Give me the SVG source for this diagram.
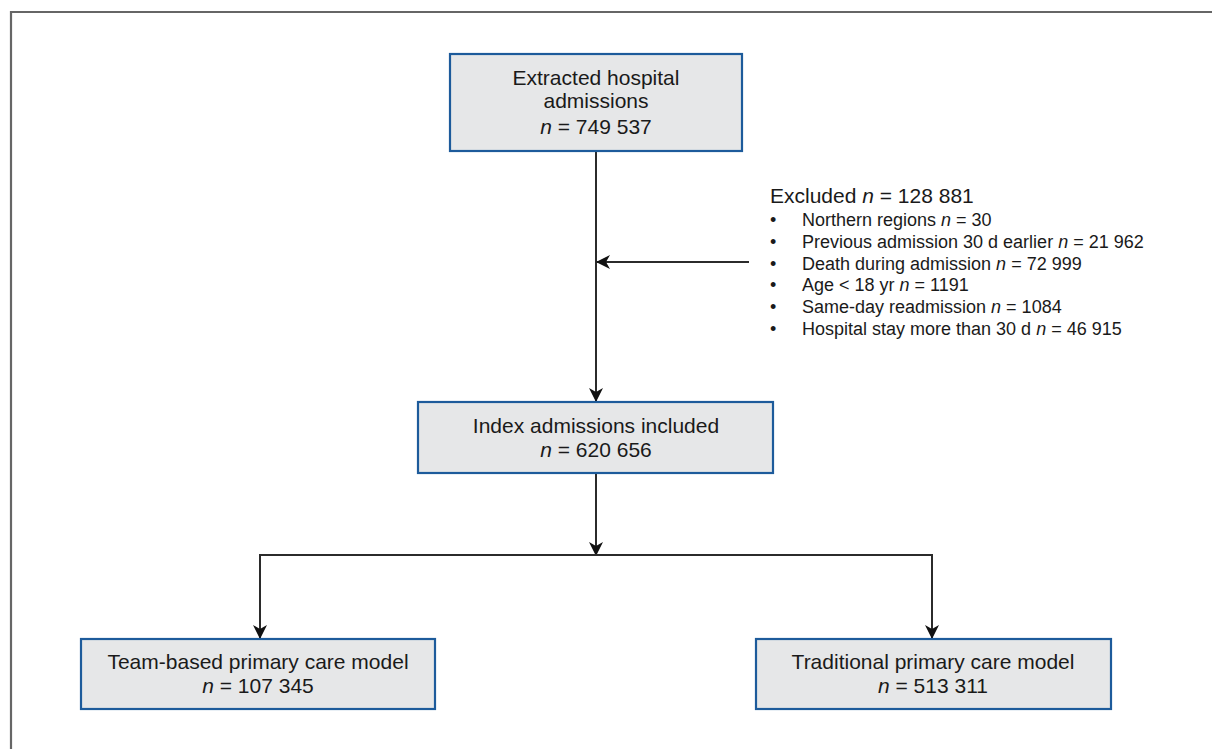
<svg xmlns="http://www.w3.org/2000/svg" width="1212" height="749" viewBox="0 0 1212 749">
<style>
.box{fill:#e6e7e8;stroke:#1d5b9b;stroke-width:2.2}
.t{font-family:"Liberation Sans",Arial,sans-serif;font-size:21px;fill:#1a1a1a;text-anchor:middle}
.s{font-family:"Liberation Sans",Arial,sans-serif;font-size:18px;fill:#1a1a1a}
.x{font-family:"Liberation Sans",Arial,sans-serif;font-size:21px;fill:#1a1a1a}
.c{fill:none;stroke:#2b2b2b;stroke-width:2}
</style>
<defs>
<marker id="ah" viewBox="0 0 14 14" refX="13" refY="7" markerWidth="14" markerHeight="14" markerUnits="userSpaceOnUse" orient="auto">
<path d="M0,0 L14,7 L0,14 L4,7 Z" fill="#111"/>
</marker>
</defs>
<rect width="1212" height="749" fill="#fff"/>
<path d="M11,749 V12 H1212" fill="none" stroke="#666" stroke-width="2.2"/>
<g id="connectors">
<line class="c" x1="596" y1="151" x2="596" y2="401" marker-end="url(#ah)"/>
<line class="c" x1="749" y1="262" x2="597" y2="262" marker-end="url(#ah)"/>
<line class="c" x1="596" y1="473" x2="596" y2="555" marker-end="url(#ah)"/>
<path class="c" d="M260,638 V555 H932 V638"/>
<line class="c" x1="260" y1="600" x2="260" y2="638" marker-end="url(#ah)"/>
<line class="c" x1="932" y1="600" x2="932" y2="638" marker-end="url(#ah)"/>
</g>
<g id="extracted">
<rect class="box" x="450" y="54" width="292" height="97"/>
<text class="t" x="596" y="85">Extracted hospital</text>
<text class="t" x="596" y="108">admissions</text>
<text class="t" x="596" y="134"><tspan font-style="italic">n</tspan> = 749 537</text>
</g>
<g id="excluded">
<text class="x" x="770" y="203">Excluded <tspan font-style="italic">n</tspan> = 128 881</text>
<g class="s">
<text x="770" y="226">•</text><text x="802" y="226">Northern regions <tspan font-style="italic">n</tspan> = 30</text>
<text x="770" y="248">•</text><text x="802" y="248">Previous admission 30 d earlier <tspan font-style="italic">n</tspan> = 21 962</text>
<text x="770" y="270">•</text><text x="802" y="270">Death during admission <tspan font-style="italic">n</tspan> = 72 999</text>
<text x="770" y="291">•</text><text x="802" y="291">Age &lt; 18 yr <tspan font-style="italic">n</tspan> = 1191</text>
<text x="770" y="313">•</text><text x="802" y="313">Same-day readmission <tspan font-style="italic">n</tspan> = 1084</text>
<text x="770" y="335">•</text><text x="802" y="335">Hospital stay more than 30 d <tspan font-style="italic">n</tspan> = 46 915</text>
</g>
</g>
<g id="index">
<rect class="box" x="418" y="402" width="355" height="71"/>
<text class="t" x="596" y="433">Index admissions included</text>
<text class="t" x="596" y="457"><tspan font-style="italic">n</tspan> = 620 656</text>
</g>
<g id="team">
<rect class="box" x="81" y="639" width="354" height="70"/>
<text class="t" x="258" y="669">Team-based primary care model</text>
<text class="t" x="258" y="693"><tspan font-style="italic">n</tspan> = 107 345</text>
</g>
<g id="traditional">
<rect class="box" x="756" y="639" width="355" height="70"/>
<text class="t" x="933" y="669">Traditional primary care model</text>
<text class="t" x="933" y="693"><tspan font-style="italic">n</tspan> = 513 311</text>
</g>
</svg>
